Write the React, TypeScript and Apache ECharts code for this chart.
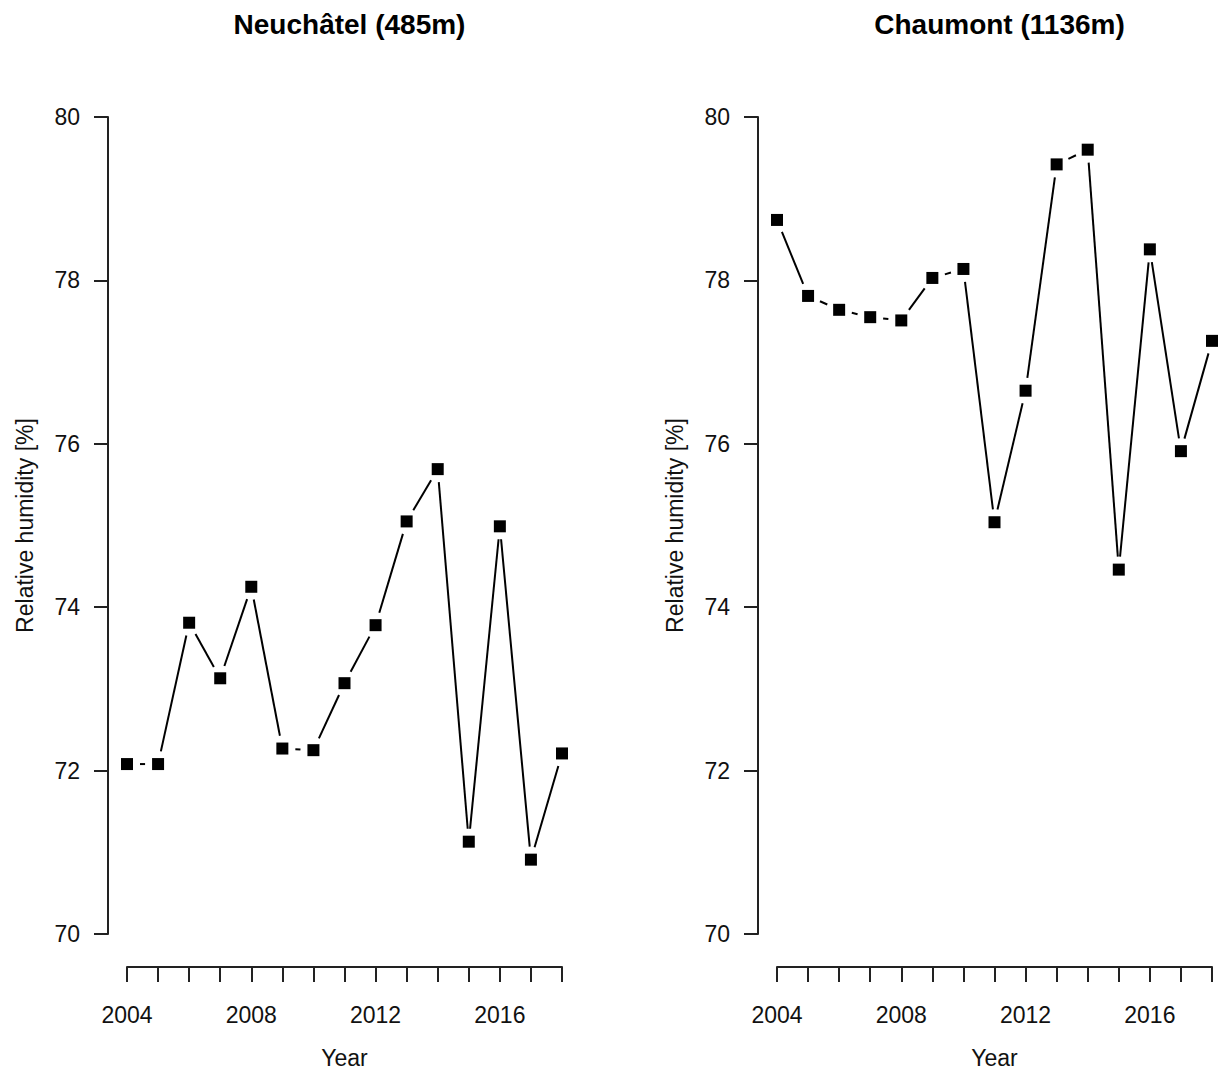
import React, { useEffect, useRef } from "react";
import * as echarts from "echarts";

// Annual mean relative humidity at two stations
const years = [2004, 2005, 2006, 2007, 2008, 2009, 2010, 2011, 2012, 2013, 2014, 2015, 2016, 2017, 2018];
const neuchatel = [72.08, 72.08, 73.81, 73.13, 74.25, 72.27, 72.25, 73.07, 73.78, 75.05, 75.69, 71.13, 74.99, 70.91, 72.21];
const chaumont = [78.74, 77.81, 77.64, 77.55, 77.51, 78.03, 78.14, 75.04, 76.65, 79.42, 79.6, 74.46, 78.38, 75.91, 77.26];

const stationTitles = ["Neuchâtel (485m)", "Chaumont (1136m)"];
const yTicks = [70, 72, 74, 76, 78, 80];
const xLabelYears = [2004, 2008, 2012, 2016];

const FONT = "Liberation Sans, Arial, Helvetica, sans-serif";
const INK = "#000";

// Line segments between consecutive points (R "type b" style: gaps around points)
function segments(values: number[]) {
  const out: number[][] = [];
  for (let i = 0; i < years.length - 1; i++) {
    out.push([years[i], values[i], years[i + 1], values[i + 1]]);
  }
  return out;
}

const GAP = 13;

function renderSegment(_params: any, api: any) {
  const p1 = api.coord([api.value(0), api.value(1)]);
  const p2 = api.coord([api.value(2), api.value(3)]);
  const dx = p2[0] - p1[0];
  const dy = p2[1] - p1[1];
  const len = Math.hypot(dx, dy);
  if (len <= 2 * GAP) return null;
  const ux = dx / len;
  const uy = dy / len;
  return {
    type: "line",
    shape: {
      x1: p1[0] + ux * GAP,
      y1: p1[1] + uy * GAP,
      x2: p2[0] - ux * GAP,
      y2: p2[1] - uy * GAP,
    },
    style: { stroke: INK, lineWidth: 2 },
  };
}

export default function App() {
  const ref = useRef<HTMLDivElement>(null);

  useEffect(() => {
    if (!ref.current) return;
    const chart = echarts.init(ref.current, undefined, { renderer: "svg" });

    const grids = [
      { left: 127, width: 435, top: 117, height: 822 },
      { left: 777, width: 435, top: 117, height: 822 },
    ];

    const axisLineStyle = { color: "#222", width: 2 };
    const labelStyle = { color: "#111", fontSize: 23, fontFamily: FONT };

    const xAxes = grids.map((_, i) => ({
      type: "value",
      gridIndex: i,
      min: years[0],
      max: years[years.length - 1],
      interval: 1,
      offset: 33,
      splitLine: { show: false },
      axisLine: { show: true, lineStyle: axisLineStyle },
      axisTick: { show: true, length: 15, lineStyle: axisLineStyle },
      axisLabel: {
        ...labelStyle,
        margin: 36,
        showMinLabel: true,
        showMaxLabel: true,
        formatter: (v: number) => (xLabelYears.includes(v) ? String(v) : ""),
      },
      name: "Year",
      nameLocation: "middle",
      nameGap: 79,
      nameTextStyle: { ...labelStyle },
    }));

    const yAxes = grids.map((_, i) => ({
      type: "value",
      gridIndex: i,
      min: yTicks[0],
      max: yTicks[yTicks.length - 1],
      interval: 2,
      offset: 19,
      splitLine: { show: false },
      axisLine: { show: true, lineStyle: axisLineStyle },
      axisTick: { show: true, length: 14, lineStyle: axisLineStyle },
      axisLabel: { ...labelStyle, margin: 28 },
      name: "Relative humidity [%]",
      nameLocation: "middle",
      nameGap: 72,
      nameTextStyle: { ...labelStyle },
    }));

    const stations = [neuchatel, chaumont];

    const series: any[] = [];
    stations.forEach((vals, i) => {
      series.push({
        type: "custom",
        xAxisIndex: i,
        yAxisIndex: i,
        clip: false,
        renderItem: renderSegment,
        encode: { x: [0, 2], y: [1, 3] },
        data: segments(vals),
        silent: true,
      });
      series.push({
        type: "scatter",
        xAxisIndex: i,
        yAxisIndex: i,
        clip: false,
        symbol: "rect",
        symbolSize: 12,
        itemStyle: { color: "#000", opacity: 1 },
        data: years.map((y, k) => [y, vals[k]]),
        silent: true,
      });
    });

    chart.setOption({
      animation: false,
      backgroundColor: "#fff",
      title: stationTitles.map((t, i) => ({
        text: t,
        left: grids[i].left + grids[i].width / 2,
        top: 5,
        textAlign: "center",
        textStyle: { fontSize: 28, fontWeight: "bold", color: "#000", fontFamily: FONT },
      })),
      grid: grids.map((g) => ({ ...g, containLabel: false })),
      xAxis: xAxes,
      yAxis: yAxes,
      series,
    });

    return () => chart.dispose();
  }, []);

  return (
    <div
      ref={ref}
      style={{ position: "fixed", left: 0, top: 0, width: 1218, height: 1074, background: "#fff" }}
    />
  );
}
